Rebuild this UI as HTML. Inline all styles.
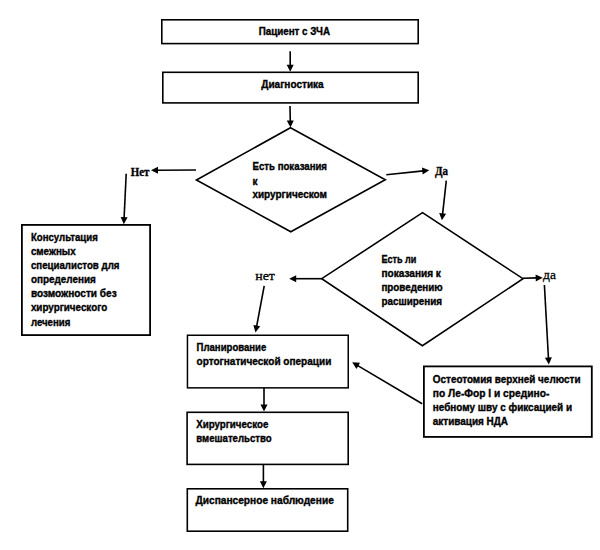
<!DOCTYPE html>
<html><head><meta charset="utf-8"><style>
html,body{margin:0;padding:0;background:#fff;}
svg{display:block;}
</style></head><body>
<svg width="600" height="550" viewBox="0 0 600 550">
<rect width="600" height="550" fill="#fff"/>
<rect x="161.80" y="19.80" width="256.40" height="23.80" fill="none" stroke="#000" stroke-width="1.6"/>
<rect x="162.80" y="72.30" width="255.40" height="30.60" fill="none" stroke="#000" stroke-width="1.6"/>
<rect x="21.90" y="224.90" width="128.20" height="110.20" fill="none" stroke="#000" stroke-width="1.8"/>
<rect x="187.45" y="335.25" width="160.80" height="52.60" fill="none" stroke="#000" stroke-width="1.5"/>
<rect x="187.10" y="412.30" width="161.10" height="52.10" fill="none" stroke="#000" stroke-width="1.6"/>
<rect x="423.90" y="366.40" width="167.90" height="70.50" fill="none" stroke="#000" stroke-width="1.8"/>
<rect x="187.30" y="488.80" width="160.40" height="42.40" fill="none" stroke="#000" stroke-width="1.6"/>
<polygon points="290.50,127.70 385.30,179.70 290.80,231.80 196.40,180.00" fill="none" stroke="#000" stroke-width="1.6" stroke-linejoin="miter"/>
<polygon points="422.50,212.70 523.00,278.70 422.40,345.70 321.70,278.70" fill="none" stroke="#000" stroke-width="1.6" stroke-linejoin="miter"/>
<line x1="290.20" y1="51.30" x2="290.20" y2="65.80" stroke="#000" stroke-width="1.6"/>
<polygon points="290.20,71.80 286.70,64.80 293.70,64.80" fill="#000"/>
<line x1="290.00" y1="106.00" x2="290.29" y2="121.50" stroke="#000" stroke-width="1.6"/>
<polygon points="290.40,127.50 286.77,120.57 293.77,120.44" fill="#000"/>
<line x1="196.00" y1="170.00" x2="157.00" y2="170.26" stroke="#000" stroke-width="1.6"/>
<polygon points="151.00,170.30 157.98,166.75 158.02,173.75" fill="#000"/>
<line x1="126.20" y1="173.70" x2="124.08" y2="218.21" stroke="#000" stroke-width="1.6"/>
<polygon points="123.80,224.20 120.64,217.04 127.63,217.37" fill="#000"/>
<line x1="386.30" y1="174.70" x2="423.33" y2="170.91" stroke="#000" stroke-width="1.6"/>
<polygon points="429.30,170.30 422.69,174.49 421.98,167.53" fill="#000"/>
<line x1="446.30" y1="180.70" x2="442.56" y2="214.34" stroke="#000" stroke-width="1.6"/>
<polygon points="441.90,220.30 439.19,212.96 446.15,213.73" fill="#000"/>
<line x1="523.00" y1="278.20" x2="536.70" y2="277.85" stroke="#000" stroke-width="1.6"/>
<polygon points="542.70,277.70 535.79,281.38 535.61,274.38" fill="#000"/>
<line x1="544.40" y1="285.00" x2="548.47" y2="358.51" stroke="#000" stroke-width="1.6"/>
<polygon points="548.80,364.50 544.92,357.70 551.91,357.32" fill="#000"/>
<line x1="321.70" y1="278.70" x2="295.20" y2="278.70" stroke="#000" stroke-width="1.6"/>
<polygon points="289.20,278.70 296.20,275.20 296.20,282.20" fill="#000"/>
<line x1="264.20" y1="285.80" x2="256.60" y2="326.60" stroke="#000" stroke-width="1.6"/>
<polygon points="255.50,332.50 253.34,324.98 260.22,326.26" fill="#000"/>
<line x1="422.20" y1="403.70" x2="357.36" y2="365.35" stroke="#000" stroke-width="1.6"/>
<polygon points="352.20,362.30 360.01,362.85 356.44,368.88" fill="#000"/>
<line x1="264.00" y1="388.00" x2="264.00" y2="405.50" stroke="#000" stroke-width="1.6"/>
<polygon points="264.00,411.50 260.50,404.50 267.50,404.50" fill="#000"/>
<line x1="263.40" y1="464.50" x2="263.40" y2="482.30" stroke="#000" stroke-width="1.6"/>
<polygon points="263.40,488.30 259.90,481.30 266.90,481.30" fill="#000"/>
<text x="258.70" y="35.10" textLength="71.30" lengthAdjust="spacingAndGlyphs" font-family="Liberation Sans" font-size="10.0" font-weight="bold" stroke="#000" stroke-width="0.35">Пациент с ЗЧА</text>
<text x="261.30" y="87.70" textLength="62.40" lengthAdjust="spacingAndGlyphs" font-family="Liberation Sans" font-size="10.0" font-weight="bold" stroke="#000" stroke-width="0.35">Диагностика</text>
<text x="252.60" y="170.40" textLength="74.40" lengthAdjust="spacingAndGlyphs" font-family="Liberation Sans" font-size="10.0" font-weight="bold" stroke="#000" stroke-width="0.35">Есть показания</text>
<text x="252.60" y="184.80" font-family="Liberation Sans" font-size="10.0" font-weight="bold" stroke="#000" stroke-width="0.35">к</text>
<text x="252.40" y="198.00" textLength="74.60" lengthAdjust="spacingAndGlyphs" font-family="Liberation Sans" font-size="10.0" font-weight="bold" stroke="#000" stroke-width="0.35">хирургическом</text>
<text x="30.90" y="240.80" textLength="66.90" lengthAdjust="spacingAndGlyphs" font-family="Liberation Sans" font-size="10.0" font-weight="bold" stroke="#000" stroke-width="0.35">Консультация</text>
<text x="30.90" y="254.93" textLength="44.80" lengthAdjust="spacingAndGlyphs" font-family="Liberation Sans" font-size="10.0" font-weight="bold" stroke="#000" stroke-width="0.35">смежных</text>
<text x="30.90" y="269.06" textLength="88.60" lengthAdjust="spacingAndGlyphs" font-family="Liberation Sans" font-size="10.0" font-weight="bold" stroke="#000" stroke-width="0.35">специалистов для</text>
<text x="30.90" y="283.19" textLength="65.00" lengthAdjust="spacingAndGlyphs" font-family="Liberation Sans" font-size="10.0" font-weight="bold" stroke="#000" stroke-width="0.35">определения</text>
<text x="30.90" y="297.32" textLength="85.80" lengthAdjust="spacingAndGlyphs" font-family="Liberation Sans" font-size="10.0" font-weight="bold" stroke="#000" stroke-width="0.35">возможности без</text>
<text x="30.90" y="311.45" textLength="76.30" lengthAdjust="spacingAndGlyphs" font-family="Liberation Sans" font-size="10.0" font-weight="bold" stroke="#000" stroke-width="0.35">хирургического</text>
<text x="30.90" y="325.58" textLength="39.50" lengthAdjust="spacingAndGlyphs" font-family="Liberation Sans" font-size="10.0" font-weight="bold" stroke="#000" stroke-width="0.35">лечения</text>
<text x="381.40" y="262.60" textLength="35.00" lengthAdjust="spacingAndGlyphs" font-family="Liberation Sans" font-size="10.0" font-weight="bold" stroke="#000" stroke-width="0.35">Есть ли</text>
<text x="381.40" y="276.60" textLength="59.50" lengthAdjust="spacingAndGlyphs" font-family="Liberation Sans" font-size="10.0" font-weight="bold" stroke="#000" stroke-width="0.35">показания к</text>
<text x="381.40" y="290.90" textLength="61.30" lengthAdjust="spacingAndGlyphs" font-family="Liberation Sans" font-size="10.0" font-weight="bold" stroke="#000" stroke-width="0.35">проведению</text>
<text x="381.40" y="304.80" textLength="60.70" lengthAdjust="spacingAndGlyphs" font-family="Liberation Sans" font-size="10.0" font-weight="bold" stroke="#000" stroke-width="0.35">расширения</text>
<text x="196.60" y="351.00" textLength="69.70" lengthAdjust="spacingAndGlyphs" font-family="Liberation Sans" font-size="10.0" font-weight="bold" stroke="#000" stroke-width="0.35">Планирование</text>
<text x="196.60" y="364.60" textLength="134.70" lengthAdjust="spacingAndGlyphs" font-family="Liberation Sans" font-size="10.0" font-weight="bold" stroke="#000" stroke-width="0.35">ортогнатической операции</text>
<text x="432.80" y="382.60" textLength="147.70" lengthAdjust="spacingAndGlyphs" font-family="Liberation Sans" font-size="10.0" font-weight="bold" stroke="#000" stroke-width="0.35">Остеотомия верхней челюсти</text>
<text x="432.80" y="396.90" textLength="116.50" lengthAdjust="spacingAndGlyphs" font-family="Liberation Sans" font-size="10.0" font-weight="bold" stroke="#000" stroke-width="0.35">по Ле-Фор I и средино-</text>
<text x="432.80" y="410.70" textLength="139.20" lengthAdjust="spacingAndGlyphs" font-family="Liberation Sans" font-size="10.0" font-weight="bold" stroke="#000" stroke-width="0.35">небному шву с фиксацией и</text>
<text x="432.80" y="424.80" textLength="75.20" lengthAdjust="spacingAndGlyphs" font-family="Liberation Sans" font-size="10.0" font-weight="bold" stroke="#000" stroke-width="0.35">активация НДА</text>
<text x="196.30" y="427.80" textLength="72.00" lengthAdjust="spacingAndGlyphs" font-family="Liberation Sans" font-size="10.0" font-weight="bold" stroke="#000" stroke-width="0.35">Хирургическое</text>
<text x="196.30" y="441.60" textLength="75.40" lengthAdjust="spacingAndGlyphs" font-family="Liberation Sans" font-size="10.0" font-weight="bold" stroke="#000" stroke-width="0.35">вмешательство</text>
<text x="195.50" y="504.40" textLength="138.30" lengthAdjust="spacingAndGlyphs" font-family="Liberation Sans" font-size="10.0" font-weight="bold" stroke="#000" stroke-width="0.35">Диспансерное наблюдение</text>
<text x="130.70" y="175.70" textLength="18.60" lengthAdjust="spacingAndGlyphs" font-family="Liberation Serif" font-size="12" font-weight="bold" stroke="#000" stroke-width="0.35">Нет</text>
<text x="435.00" y="174.70" textLength="13.00" lengthAdjust="spacingAndGlyphs" font-family="Liberation Serif" font-size="12" font-weight="bold" stroke="#000" stroke-width="0.35">Да</text>
<text x="255.20" y="280.30" textLength="19.80" lengthAdjust="spacingAndGlyphs" font-family="Liberation Serif" font-size="13" font-weight="normal" stroke="#000" stroke-width="0.3">нет</text>
<text x="543.10" y="278.70" textLength="12.90" lengthAdjust="spacingAndGlyphs" font-family="Liberation Serif" font-size="13" font-weight="normal" stroke="#000" stroke-width="0.3">да</text>
</svg>
</body></html>
